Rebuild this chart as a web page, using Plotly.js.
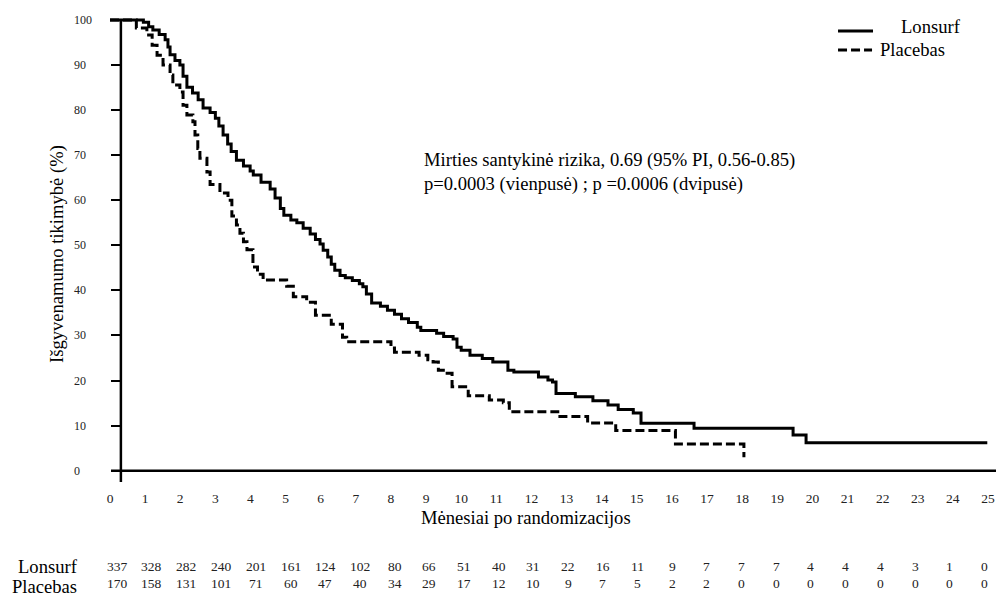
<!DOCTYPE html>
<html>
<head>
<meta charset="utf-8">
<script src="https://cdn.plot.ly/plotly-3.0.1.min.js"></script>
<style>html,body{margin:0;padding:0;background:#fff;}#chart{width:996px;height:597px;}</style>
</head>
<body>
<div id="chart"></div>
<script>
// Kaplan-Meier step points (months, % survival)
const lonsurfT = [0,0.95,1.1,1.22,1.4,1.57,1.65,1.71,1.85,1.99,2.08,2.19,2.35,2.51,2.65,2.85,3.0,3.1,3.22,3.35,3.45,3.6,3.8,3.99,4.08,4.3,4.56,4.7,4.85,4.95,5.15,5.32,5.5,5.7,5.85,5.98,6.07,6.2,6.3,6.4,6.55,6.7,6.9,7.1,7.2,7.3,7.45,7.7,7.9,8.1,8.3,8.5,8.75,8.85,9.3,9.5,9.77,9.88,10.0,10.25,10.6,10.9,11.33,11.5,12.2,12.47,12.6,12.7,13.25,13.75,14.18,14.47,14.9,15.12,16.63,19.45,19.82,24.98];
const lonsurfS = [100,99.5,98.5,97.8,96.8,95.6,94.0,92.3,91.0,90.0,87.5,85.1,83.8,82.3,80.5,79.5,78.2,76.5,74.5,72.5,70.8,68.9,67.6,66.5,65.6,64.0,62.5,60.5,58.2,56.7,55.6,55.0,53.8,52.5,51.3,50.3,48.9,47.4,45.8,44.5,43.3,42.8,42.2,41.5,40.8,39.2,37.2,36.5,35.6,34.7,33.7,32.9,31.8,31.1,30.5,29.8,29.2,27.4,26.7,25.6,24.9,24.1,22.3,21.9,20.8,20.1,19.7,17.1,16.4,15.5,14.6,13.6,12.8,10.5,9.4,7.9,6.2,6.2];
const placeboT = [0,0.75,1.05,1.2,1.34,1.51,1.71,1.79,1.99,2.08,2.19,2.36,2.42,2.5,2.56,2.76,2.85,3.13,3.36,3.47,3.6,3.7,3.8,3.9,4.07,4.2,4.36,5.03,5.22,5.6,5.85,6.3,6.62,6.74,8.0,8.1,8.8,9.05,9.2,9.35,9.6,9.74,10.2,10.8,11.2,11.37,12.75,13.6,14.4,16.1,18.05];
const placeboS = [100,98.2,96.7,94.4,92.2,90.0,87.8,85.6,84.0,81.1,78.9,77.4,74.5,71.5,69.3,66.3,63.5,61.6,60.0,56.5,54.5,52.7,50.8,49.0,45.2,43.6,42.3,40.9,38.6,37.4,34.5,32.5,29.6,28.6,27.2,26.3,25.6,24.6,24.1,22.3,21.6,18.6,16.6,15.7,15.1,13.1,12.0,10.6,8.9,5.9,3.0];

const monthTicks = [0,1,2,3,4,5,6,7,8,9,10,11,12,13,14,15,16,17,18,19,20,21,22,23,24,25];
const yTicks = [0,10,20,30,40,50,60,70,80,90,100];
const atRiskLonsurf = [337,328,282,240,201,161,124,102,80,66,51,40,31,22,16,11,9,7,7,7,4,4,4,3,1,0];
const atRiskPlacebo = [170,158,131,101,71,60,47,40,34,29,17,12,10,9,7,5,2,2,0,0,0,0,0,0,0,0];
const seriesNames = ['Lonsurf','Placebas'];

const FONT = 'Liberation Serif, Times New Roman, serif';
const TXT = 18.6;

const traces = [
  {x: lonsurfT, y: lonsurfS, type: 'scatter', mode: 'lines', name: seriesNames[0],
   line: {shape: 'hv', color: '#000', width: 3}, showlegend: false, hoverinfo: 'skip'},
  {x: placeboT, y: placeboS, type: 'scatter', mode: 'lines', name: seriesNames[1],
   line: {shape: 'hv', color: '#000', width: 3, dash: '9px,4px'}, showlegend: false, hoverinfo: 'skip'}
];

const annotations = [];
// y tick labels (left aligned as in the reference)
yTicks.forEach(v => annotations.push({
  xref: 'paper', yref: 'y', x: -0.0405, y: v, xanchor: 'left', yanchor: 'middle',
  text: String(v), showarrow: false, font: {family: FONT, size: 12, color: '#222'}
}));
// axis titles
annotations.push({xref: 'paper', yref: 'paper', x: 0.4707, y: -0.0742, xanchor: 'center', yanchor: 'middle',
  text: 'Mėnesiai po randomizacijos', showarrow: false, font: {family: FONT, size: TXT, color: '#000'}});
annotations.push({xref: 'paper', yref: 'paper', x: -0.0574, y: 0.483, xanchor: 'center', yanchor: 'middle',
  textangle: -90, text: 'Išgyvenamumo tikimybė (%)', showarrow: false, font: {family: FONT, size: TXT, color: '#000'}});
// hazard ratio text
annotations.push({xref: 'paper', yref: 'paper', x: 0.3536, y: 0.682, xanchor: 'left', yanchor: 'middle',
  text: 'Mirties santykinė rizika, 0.69 (95% PI, 0.56-0.85)', showarrow: false, font: {family: FONT, size: TXT, color: '#000'}});
annotations.push({xref: 'paper', yref: 'paper', x: 0.3536, y: 0.631, xanchor: 'left', yanchor: 'middle',
  text: 'p=0.0003 (vienpusė) ; p =0.0006 (dvipusė)', showarrow: false, font: {family: FONT, size: TXT, color: '#000'}});
// legend texts
annotations.push({xref: 'paper', yref: 'paper', x: 0.8908, y: 0.966, xanchor: 'left', yanchor: 'middle',
  text: seriesNames[0], showarrow: false, font: {family: FONT, size: TXT, color: '#000'}});
annotations.push({xref: 'paper', yref: 'paper', x: 0.8671, y: 0.9153, xanchor: 'left', yanchor: 'middle',
  text: seriesNames[1], showarrow: false, font: {family: FONT, size: TXT, color: '#000'}});
// at-risk table
annotations.push({xref: 'paper', yref: 'paper', x: -0.0676, y: -0.180, xanchor: 'center', yanchor: 'middle',
  text: seriesNames[0], showarrow: false, font: {family: FONT, size: TXT, color: '#000'}});
annotations.push({xref: 'paper', yref: 'paper', x: -0.072, y: -0.2215, xanchor: 'center', yanchor: 'middle',
  text: seriesNames[1], showarrow: false, font: {family: FONT, size: TXT, color: '#000'}});
monthTicks.forEach((m, i) => {
  const xPos = 0.2 + 0.988 * m;
  annotations.push({xref: 'x', yref: 'paper', x: xPos, y: -0.180, xanchor: 'center', yanchor: 'middle',
    text: String(atRiskLonsurf[i]), showarrow: false, font: {family: FONT, size: 13.5, color: '#222'}});
  annotations.push({xref: 'x', yref: 'paper', x: xPos, y: -0.216, xanchor: 'center', yanchor: 'middle',
    text: String(atRiskPlacebo[i]), showarrow: false, font: {family: FONT, size: 13.5, color: '#222'}});
});

const shapes = [
  // y axis line
  {type: 'line', xref: 'x', yref: 'y', x0: 0.31, x1: 0.31, y0: -2.51, y1: 100, line: {color: '#000', width: 2.5}},
  // x axis line
  {type: 'line', xref: 'paper', yref: 'y', x0: 0.0034, x1: 1, y0: 0, y1: 0, line: {color: '#000', width: 2.5}},
  // legend samples
  {type: 'line', xref: 'paper', yref: 'paper', x0: 0.8221, x1: 0.8615, y0: 0.9555, y1: 0.9555, line: {color: '#000', width: 3}},
  {type: 'line', xref: 'paper', yref: 'paper', x0: 0.8221, x1: 0.8604, y0: 0.9153, y1: 0.9153, line: {color: '#000', width: 3, dash: '9px,4px'}}
];

const layout = {
  width: 996, height: 597,
  margin: {l: 108, r: 0, t: 10, b: 115},
  paper_bgcolor: '#fff', plot_bgcolor: '#fff',
  showlegend: false,
  font: {family: FONT, color: '#000'},
  xaxis: {
    range: [-0.057, 25.228], showgrid: false, zeroline: false, showline: false,
    ticks: '', tickvals: monthTicks, ticktext: monthTicks.map(String),
    tickfont: {family: FONT, size: 13.5, color: '#222'}, ticklabelstandoff: 6
  },
  yaxis: {
    range: [-2.51, 102.22], anchor: 'free', position: 0.01464,
    showgrid: false, zeroline: false, showline: false,
    ticks: 'outside', ticklen: 10, tickwidth: 2, tickcolor: '#000',
    tickvals: yTicks, showticklabels: false
  },
  annotations: annotations,
  shapes: shapes
};

Plotly.newPlot('chart', traces, layout, {staticPlot: true, displayModeBar: false});
</script>
</body>
</html>
